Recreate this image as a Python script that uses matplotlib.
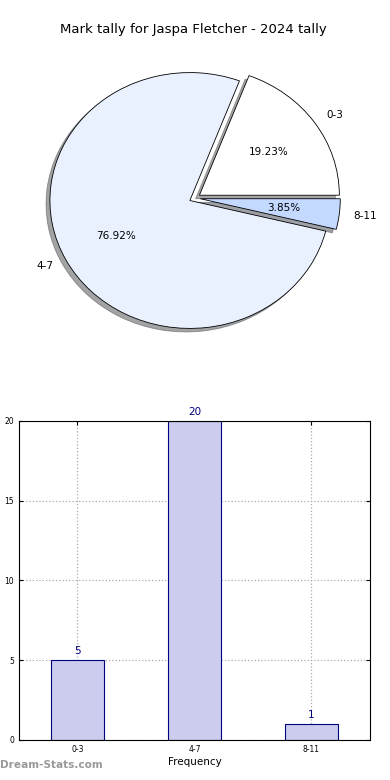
import numpy as np
import matplotlib.pyplot as plt

# data
categories = ['0-3', '4-7', '8-11']
counts = [5, 20, 1]
pie_colors = ['#ffffff', '#eaf1fe', '#c3d9ff']

fig = plt.figure(figsize=(3.9, 7.8), dpi=100)

# pie chart
ax1 = fig.add_axes([0.051, 0.541, 0.897, 0.410])
wedges, texts, autotexts = ax1.pie(counts, labels=categories, colors=pie_colors,
                                   explode=[0.04, 0.04, 0.04], autopct='%.2f%%',
                                   shadow=True, startangle=0, labeldistance=1.1,
                                   wedgeprops={'edgecolor': 'black', 'linewidth': 0.6},
                                   textprops={'fontsize': 7.5})
ax1.set_aspect('auto')
ax1.set_xlim(-1.25, 1.25)
ax1.set_ylim(-1.25, 1.25)
fig.text(0.497, 0.962, 'Mark tally for Jaspa Fletcher - 2024 tally',
         ha='center', va='center', fontsize=9.5)

# bar chart
ax2 = fig.add_axes([0.0487, 0.0513, 0.9, 0.409])
x = np.arange(len(categories))
ax2.bar(x, counts, width=0.45, color='#ccccee', edgecolor='#000080', linewidth=0.8, zorder=2)
for xi, c in zip(x, counts):
    ax2.text(xi, c + 0.25, str(c), ha='center', va='bottom', color='#000080', fontsize=7.5)
ax2.set_xlim(-0.5, 2.5)
ax2.set_ylim(0, 20)
ax2.set_yticks([0, 5, 10, 15, 20])
ax2.set_xticks(x)
ax2.set_xticklabels(categories)
ax2.tick_params(labelsize=5.5, direction='in', length=3, top=True, right=True)
ax2.grid(True, linestyle=':', color='#aaaaaa', linewidth=0.9, zorder=0)
ax2.set_axisbelow(True)
ax2.set_xlabel('Frequency', fontsize=7.5, labelpad=2)
ax2.set_ylabel('Student Tally', fontsize=7, labelpad=6)

fig.text(0.0, 0.013, 'Dream-Stats.com', color='#999999', fontsize=7.6,
         fontweight='bold', ha='left', va='bottom')

plt.savefig('out.png', dpi=100)
